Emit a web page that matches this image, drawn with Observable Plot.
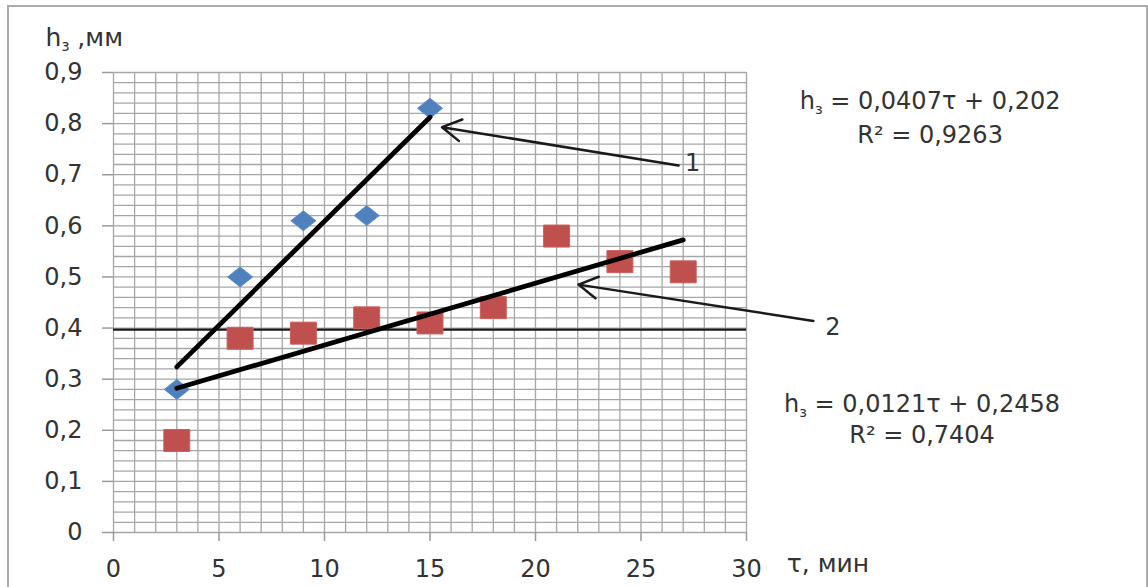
<!DOCTYPE html>
<html><head><meta charset="utf-8">
<script src="https://cdn.jsdelivr.net/npm/d3@7"></script>
<script src="https://cdn.jsdelivr.net/npm/@observablehq/plot@0.6"></script>
<style>
body{margin:0;background:#fff;}
#wrap{position:relative;width:1148px;height:587px;overflow:hidden;}
#frame{position:absolute;left:7px;top:5px;width:1141px;height:640px;border:2px solid #ababab;box-sizing:border-box;pointer-events:none;}
#chart{position:absolute;left:0;top:0;}
svg g[aria-label="x-axis tick"] path, svg g[aria-label="y-axis tick"] path{stroke:#9a9a9a;stroke-width:1.5;}
</style></head><body>
<div id="wrap"><div id="chart"></div><div id="frame"></div></div>
<script>
// Series 1 (blue diamonds)
const tau1 = [3, 6, 9, 12, 15];
const h1   = [0.28, 0.50, 0.61, 0.62, 0.83];
// Series 2 (red squares)
const tau2 = [3, 6, 9, 12, 15, 18, 21, 24, 27];
const h2   = [0.18, 0.38, 0.39, 0.42, 0.41, 0.44, 0.58, 0.53, 0.51];
// Linear trend lines: h = a*tau + b over [from, to]
const trendA = [0.0407, 0.0121];
const trendB = [0.202, 0.2458];
const trendFrom = [3, 3];
const trendTo = [15, 27];
// Horizontal reference line
const refLevel = [0.397];
const refSpan = [0, 30];
// Ticks
const xTicks = [0, 5, 10, 15, 20, 25, 30];
const yTicks = [0, 0.1, 0.2, 0.3, 0.4, 0.5, 0.6, 0.7, 0.8, 0.9];
const yTickLabels = ["0", "0,1", "0,2", "0,3", "0,4", "0,5", "0,6", "0,7", "0,8", "0,9"];
const xGrid = d3.range(0, 31, 1);
const yGrid = d3.range(0, 46).map(i => +(i * 0.02).toFixed(2));
// Equation annotations
const eqText = ["h_з = 0,0407τ + 0,202", "R² = 0,9263", "h_з = 0,0121τ + 0,2458", "R² = 0,7404"];
const eqX = [38.7, 38.7, 38.32, 38.32];
const eqY = [0.829, 0.763, 0.235, 0.175];
// Arrow callouts
const arrowLabel = ["1", "2"];
const arrowX1 = [26.78, 33.17];
const arrowY1 = [0.718, 0.414];
const arrowX2 = [15.57, 22.04];
const arrowY2 = [0.793, 0.485];
const arrowLabelX = [27.45, 34.1];
const arrowLabelY = [0.708, 0.386];
// Axis titles
const axisTitle = ["h_з ,мм", "τ, мин"];
const axisTitleX = [-3.22, 31.91];
const axisTitleY = [0.952, -0.0766];

const s1 = tau1.map((t, i) => ({tau: t, h: h1[i]}));
const s2 = tau2.map((t, i) => ({tau: t, h: h2[i]}));
const trends = trendA.flatMap((a, i) => [
  {k: i, tau: trendFrom[i], h: a * trendFrom[i] + trendB[i]},
  {k: i, tau: trendTo[i], h: a * trendTo[i] + trendB[i]}
]);
const eqs = eqText.map((t, i) => ({t, x: eqX[i], y: eqY[i]}));
const arrows = arrowLabel.map((l, i) => ({l, x1: arrowX1[i], y1: arrowY1[i], x2: arrowX2[i], y2: arrowY2[i], lx: arrowLabelX[i], ly: arrowLabelY[i]}));
const titles = axisTitle.map((t, i) => ({t, x: axisTitleX[i], y: axisTitleY[i]}));

const wideDiamond = {draw(ctx, size) {
  const r = Math.sqrt(size / Math.PI);
  const hw = 1.25 * r, hh = r;
  ctx.moveTo(0, -hh); ctx.lineTo(hw, 0); ctx.lineTo(0, hh); ctx.lineTo(-hw, 0); ctx.closePath();
}};
const wideSquare = {draw(ctx, size) {
  const r = Math.sqrt(size / Math.PI);
  const hw = 1.18 * r, hh = r;
  ctx.rect(-hw, -hh, 2 * hw, 2 * hh);
}};

const plot = Plot.plot({
  width: 1148, height: 587,
  marginLeft: 113, marginRight: 402, marginTop: 72, marginBottom: 55,
  style: {fontFamily: "DejaVu Sans", fontSize: "24px", color: "#333", background: "transparent", overflow: "visible"},
  x: {domain: [0, 30]},
  y: {domain: [0, 0.9]},
  marks: [
    Plot.gridX(xGrid, {stroke: "#a6a6a6", strokeOpacity: 1, strokeWidth: 1.3}),
    Plot.gridY(yGrid, {stroke: "#a6a6a6", strokeOpacity: 1, strokeWidth: 1.3}),
    Plot.axisX(xTicks, {tickSize: 9, tickPadding: 18, label: null, fill: "#333"}),
    Plot.axisY(yTicks, {tickSize: 11, tickPadding: 20, label: null, fill: "#333",
      tickFormat: d => yTickLabels[yTicks.indexOf(d)]}),
    Plot.ruleY(refLevel, {x1: refSpan[0], x2: refSpan[1], stroke: "#1a1a1a", strokeWidth: 2.2}),
    Plot.dot(s1, {x: "tau", y: "h", symbol: wideDiamond, r: 10, fill: "#4F81BD", stroke: "#5b8ccc", strokeWidth: 1}),
    Plot.dot(s2, {x: "tau", y: "h", symbol: wideSquare, r: 11, fill: "#C0504D", stroke: "#c9605d", strokeWidth: 1}),
    Plot.line(trends, {x: "tau", y: "h", z: "k", stroke: "#000", strokeWidth: 4.8, strokeLinecap: "round"}),
    Plot.arrow(arrows, {x1: "x1", y1: "y1", x2: "x2", y2: "y2", stroke: "#1a1a1a", strokeWidth: 2.5, headLength: 13, headAngle: 60, inset: 0}),
    Plot.text(arrows, {x: "lx", y: "ly", text: "l", fontSize: 24, fill: "#333", textAnchor: "middle", lineAnchor: "bottom"}),
    Plot.text(eqs, {x: "x", y: "y", text: "t", fontSize: 24, fill: "#333", textAnchor: "middle", lineAnchor: "bottom"}),
    Plot.text(titles, {x: "x", y: "y", text: "t", fontSize: 25, fill: "#333", textAnchor: "start", lineAnchor: "bottom"})
  ]
});

d3.select(plot).selectAll("text").each(function() {
  const t = this.textContent;
  const i = t.indexOf("h_з");
  if (i < 0) return;
  const before = t.slice(0, i), after = t.slice(i + 3);
  this.textContent = "";
  const sel = d3.select(this);
  sel.append("tspan").text(before + "h");
  sel.append("tspan").attr("font-size", "0.6em").attr("dy", "5").text("з");
  sel.append("tspan").attr("dy", "-5").text(after);
});

document.getElementById("chart").appendChild(plot);
</script>
</body></html>
